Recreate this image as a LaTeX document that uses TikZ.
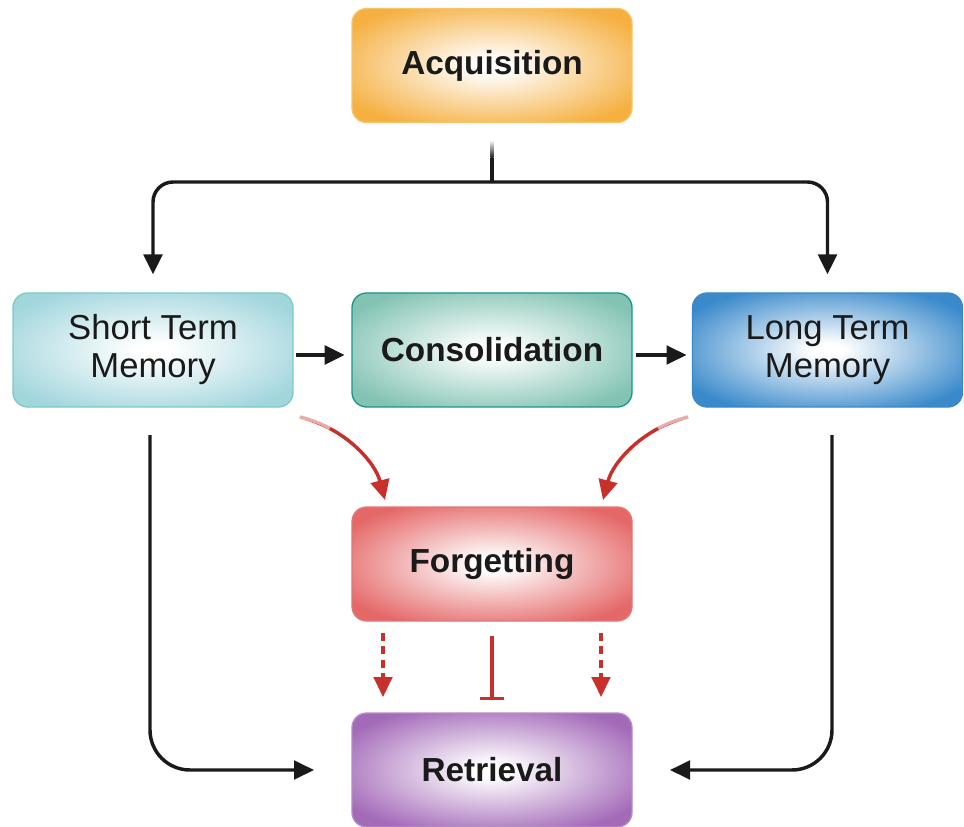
\documentclass[tikz,border=0pt]{standalone}
\usepackage{fontspec}
\setmainfont{Liberation Sans}
\usetikzlibrary{arrows.meta}
\definecolor{acqC}{HTML}{F5B041}
\definecolor{acqB}{HTML}{F7C46A}
\definecolor{stmC}{HTML}{A2D6DD}
\definecolor{stmB}{HTML}{7CCBC4}
\definecolor{conC}{HTML}{82C3B3}
\definecolor{conB}{HTML}{17998A}
\definecolor{ltmC}{HTML}{3A8ACB}
\definecolor{ltmB}{HTML}{3A88C8}
\definecolor{forC}{HTML}{E56868}
\definecolor{forB}{HTML}{E27676}
\definecolor{retC}{HTML}{A36AB8}
\definecolor{retB}{HTML}{B48CC8}
\definecolor{redA}{HTML}{C8302C}
\definecolor{ink}{HTML}{1A1A1A}
\newcommand{\mkshade}[2]{\pgfdeclareradialshading{#1}{\pgfpoint{0bp}{0bp}}{color(0bp)=(white); color(3bp)=(white); color(30bp)=(#2); color(50bp)=(#2)}}
\mkshade{shAcq}{acqC}
\mkshade{shStm}{stmC}
\mkshade{shCon}{conC}
\mkshade{shLtm}{ltmC}
\mkshade{shFor}{forC}
\mkshade{shRet}{retC}
\begin{document}
\begin{tikzpicture}[x=0.75pt,y=-0.75pt,
  box/.style={rounded corners=11pt, minimum width=210pt, minimum height=85.5pt,
    line width=1pt, align=center, text=ink, inner sep=0pt,
    font=\fontsize{26}{28.5}\selectfont},
  bbox/.style={box, font=\fontsize{25}{30}\selectfont\bfseries},
  blk/.style={line width=2.6pt, draw=ink, -{Triangle[length=15pt,width=14pt]}},
  redarr/.style={line width=2.6pt, draw=redA, -{Triangle[length=15pt,width=14pt]}},
  reddash/.style={redarr, dash pattern=on 6pt off 4pt},
  redbar/.style={line width=2.6pt, draw=redA, -{Bar[width=18pt,line width=2.6pt]}}]
\useasboundingbox (0,0) rectangle (964,827);

\node[bbox, draw=acqB, shading=shAcq] (acq) at (492,65.5) {Acquisition};
\node[box, draw=stmB, shading=shStm] (stm) at (153,350) {Short Term\\Memory};
\node[bbox, draw=conB, shading=shCon] (con) at (492,350) {Consolidation};
\node[box, draw=ltmB, shading=shLtm, minimum width=202.5pt] (ltm) at (827.5,350) {Long Term\\Memory};
\node[bbox, draw=forB, shading=shFor] (for) at (492,564) {Forgetting};
\node[bbox, draw=retB, shading=shRet] (ret) at (492,770) {Retrieval};

% acquisition split
\coordinate (split) at (492,182);
\coordinate (stem) at (492,140);
\coordinate (stemmid) at (492,158);
\shade[top color=white, bottom color=ink] ([xshift=-1.3pt]stem) rectangle ([xshift=1.3pt]stemmid);
\draw[line width=2.6pt, draw=ink] (stemmid) -- (split);
\draw[blk, rounded corners=15pt, shorten >=13.5pt] (split) -| (stm.north);
\draw[blk, rounded corners=15pt, shorten >=13.5pt] (split) -| (ltm.north);

% horizontal arrows
\draw[blk, shorten <=1.5pt, shorten >=5pt] ([yshift=-3.75pt]stm.east) -- ([yshift=-3.75pt]con.west);
\draw[blk, shorten <=2.5pt, shorten >=4pt] ([yshift=-3.75pt]con.east) -- ([yshift=-3.75pt]ltm.west);

% red curves into forgetting
\coordinate (s1) at (300,417);
\coordinate (e1) at (385,500);
\coordinate (s2) at (688,417);
\coordinate (e2) at (603,500);
\draw[redarr] (s1) .. controls (345,428) and (375,462) .. (e1);
\draw[redarr] (s2) .. controls (643,428) and (613,462) .. (e2);
\draw[line width=3.2pt, white, opacity=0.6] (s1) .. controls (312,419) and (322,423) .. (330,428);
\draw[line width=3.2pt, white, opacity=0.6] (s2) .. controls (676,419) and (666,423) .. (658,428);

% forgetting to retrieval
\coordinate (d1s) at (383,633);
\coordinate (d1e) at (383,697);
\coordinate (d2s) at (601,633);
\coordinate (d2e) at (601,697);
\coordinate (ts) at (492,636);
\coordinate (te) at (492,700);
\draw[reddash] (d1s) -- (d1e);
\draw[reddash] (d2s) -- (d2e);
\draw[redbar] (ts) -- (te);

% long paths to retrieval
\coordinate (l1) at (150,435);
\coordinate (l2) at (832,435);
\draw[blk, rounded corners=30pt, shorten >=28pt] (l1) |- (ret.west);
\draw[blk, rounded corners=30pt, shorten >=28pt] (l2) |- (ret.east);
\end{tikzpicture}
\end{document}
